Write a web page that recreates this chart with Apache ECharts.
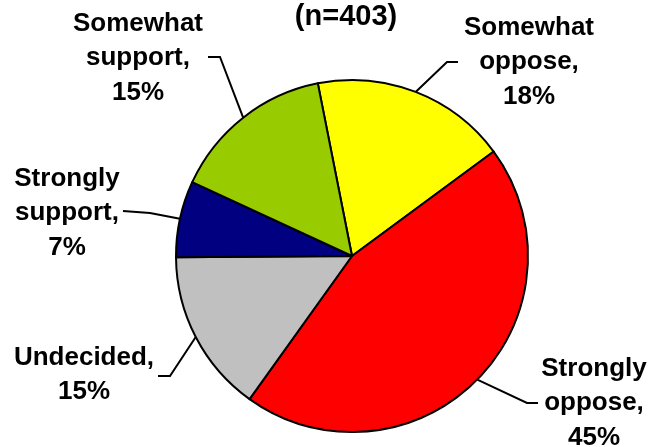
<!DOCTYPE html>
<html>
<head>
<meta charset="utf-8">
<script src="https://cdn.jsdelivr.net/npm/echarts@6/dist/echarts.min.js"></script>
<style>
  html, body { margin: 0; padding: 0; background: #fff; }
  #main { width: 651px; height: 447px; }
</style>
</head>
<body>
<div id="main"></div>
<script>
// data, clockwise from the top
var categories = ['Somewhat oppose', 'Strongly oppose', 'Undecided', 'Strongly support', 'Somewhat support'];
var percents = [18, 45, 15, 7, 15];
var sliceColors = ['#FFFF00', '#FF0000', '#C0C0C0', '#000080', '#99CC00'];
var titleText = '(n=403)';

// where each label block sits (centre) and the bend / end of its leader line
var labelPos = [[529, 62], [594, 403], [84, 375], [67, 213], [138, 58]];
var lineBend = [[447, 62], [527, 403], [170, 376], [150, 213], [220, 57]];
var lineEnd = [[458, 62], [538, 403], [158, 376], [123, 211], [208, 57]];

var myChart = echarts.init(document.getElementById('main'));

var option = {
    backgroundColor: '#fff',
    animation: false,
    title: {
        text: titleText,
        left: 341,
        top: -3,
        textAlign: 'center',
        textStyle: {
            fontFamily: 'Liberation Sans',
            fontWeight: 'bold',
            fontSize: 29,
            lineHeight: 29,
            color: '#000'
        }
    },
    series: [{
        type: 'pie',
        center: [352, 256],
        radius: [0, 176],
        startAngle: 101.2,
        clockwise: true,
        avoidLabelOverlap: false,
        itemStyle: {
            borderColor: '#000',
            borderWidth: 2
        },
        label: {
            show: true,
            position: 'outside',
            fontFamily: 'Liberation Sans',
            fontWeight: 'bold',
            fontSize: 26,
            lineHeight: 34.5,
            color: '#000',
            align: 'center',
            formatter: function (p) {
                return p.name.replace(' ', '\n') + ',\n' + p.value + '%';
            }
        },
        labelLine: {
            show: true,
            lineStyle: { color: '#000', width: 2 }
        },
        labelLayout: function (params) {
            var i = params.dataIndex;
            var start = params.labelLinePoints ? params.labelLinePoints[0] : lineBend[i];
            return {
                x: labelPos[i][0],
                y: labelPos[i][1],
                align: 'center',
                verticalAlign: 'middle',
                labelLinePoints: [start, lineBend[i], lineEnd[i]]
            };
        },
        data: categories.map(function (name, i) {
            return {
                name: name,
                value: percents[i],
                itemStyle: { color: sliceColors[i] }
            };
        })
    }]
};

myChart.setOption(option);
</script>
</body>
</html>
